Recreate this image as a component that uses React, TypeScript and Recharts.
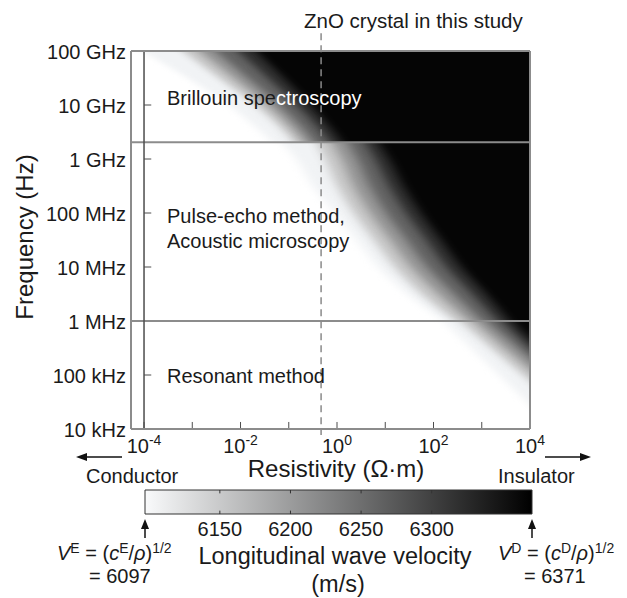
import React from 'react';
import { ComposedChart, Area, XAxis, YAxis, ReferenceLine, ReferenceArea } from 'recharts';

const FONT = '"Liberation Sans", Arial, Helvetica, sans-serif';
const INK = '#1a1a1a';
const FRAME = '#8c8c8c';
const DARK = '#4d4d4d';

// ---- axes (log10 values) ----
const X_MIN = -4.27;
const X_MAX = 4;
const Y_MIN = 4;
const Y_MAX = 11;
const xMajorTicks = [-4, -2, 0, 2, 4];
const xMinorTicks = [-4, -3, -2, -1, 0, 1, 2, 3, 4];
const yTicks = [4, 5, 6, 7, 8, 9, 10, 11];
const yTickLabels = ['10 kHz', '100 kHz', '1 MHz', '10 MHz', '100 MHz', '1 GHz', '10 GHz', '100 GHz'];
const yInnerTicks = [5, 7, 8, 9, 10];

// ---- annotations (log10 units) ----
const methodBoundaries = [9.31, 6];
const znoLogRho = -0.33;
const conductorLogRho = -4;

// ---- velocity contour levels (m/s) and their fills ----
const velocityLevels = [6104, 6125, 6180, 6234, 6295, 6360];
const levelFill = ['#f1f3f5', '#c6c6c6', '#959595', '#636363', '#303030', '#050505'];

// ---- contour positions, log10 resistivity at each log10 frequency ----
const brillouinLogF = [11, 10.5, 10, 9.6, 9.31];
const brillouinContours = [
  [-4.05, -3.1, -2.25, -1.7, -1.35],
  [-3.2, -2.45, -1.7, -1.2, -0.9],
  [-2.86, -2.15, -1.45, -0.98, -0.69],
  [-2.52, -1.85, -1.2, -0.75, -0.48],
  [-2.06, -1.44, -0.84, -0.42, -0.16],
  [-1.68, -1.1, -0.55, -0.15, 0.1],
];

const pulseLogF = [9.31, 9, 8.5, 8, 7.5, 7, 6.5, 6];
const pulseContours = [
  [-1.15, -0.85, -0.5, -0.05, 0.4, 0.85, 1.45, 2.2],
  [-0.43, -0.25, 0.0, 0.34, 0.76, 1.19, 1.75, 2.45],
  [-0.11, 0.09, 0.34, 0.68, 1.1, 1.53, 2.09, 2.73],
  [0.22, 0.42, 0.68, 1.02, 1.44, 1.87, 2.42, 3.0],
  [0.57, 0.78, 1.07, 1.42, 1.84, 2.26, 2.79, 3.32],
  [0.85, 1.08, 1.38, 1.74, 2.16, 2.58, 3.1, 3.58],
];

const resonantLogF = [6, 5.5, 5, 4.5, 4];
const resonantContours = [
  [2.2, 2.78, 3.36, 3.94, 4.5],
  [2.55, 3.19, 3.85, 4.5, 5.2],
  [2.83, 3.47, 4.13, 4.75, 5.4],
  [3.1, 3.75, 4.4, 5.0, 5.6],
  [3.4, 4.0, 4.62, 5.22, 5.82],
  [3.64, 4.2, 4.8, 5.4, 6.0],
];
const FILL_END = 6.5;

// ---- colour bar ----
const V_E = 6097;
const V_D = 6371;
const cbarTicks = [6150, 6200, 6250, 6300];
const cbarColors = ['#f9fafb', '#000000'];

type Row = { lf: number; c: number[] };
const toRows = (lf: number[], contours: number[][]): Row[] =>
  lf.map((f, i) => ({ lf: f, c: contours.map((col) => col[i]) }));

const regions: Row[][] = [
  toRows(brillouinLogF, brillouinContours),
  toRows(pulseLogF, pulseContours),
  toRows(resonantLogF, resonantContours),
];

const XTick = (props: any) => {
  const { x, y, payload } = props;
  const v = payload.value as number;
  return (
    <text x={x} y={y + 16} textAnchor="middle" fontFamily={FONT} fontSize={20} fill={INK}>
      <tspan>10</tspan>
      <tspan dy={-8} fontSize={14}>{v < 0 ? `-${-v}` : `${v}`}</tspan>
    </text>
  );
};

const YTick = (props: any) => {
  const { x, y, payload } = props;
  const idx = yTicks.indexOf(payload.value);
  return (
    <text x={x} y={y + 8} textAnchor="end" fontFamily={FONT} fontSize={20} fill={INK}>
      {idx >= 0 ? yTickLabels[idx] : ''}
    </text>
  );
};

const Sup = ({ children }: { children: React.ReactNode }) => (
  <tspan dy={-7} fontSize={14}>{children}</tspan>
);

export default function App() {
  return (
    <div style={{ position: 'absolute', left: 0, top: 0, width: 627, height: 598, background: '#fff' }}>
      <div style={{ position: 'absolute', left: 0, top: 0 }}>
        <ComposedChart
          width={627}
          height={470}
          layout="vertical"
          data={regions[1]}
          margin={{ top: 51, right: 97, bottom: 11, left: 71 }}
        >
          <defs>
            <filter id="hblur" x="-0.3" y="-0.02" width="1.6" height="1.04" colorInterpolationFilters="sRGB">
              <feGaussianBlur stdDeviation="5.5 0" />
            </filter>
          </defs>
          <XAxis
            type="number"
            domain={[X_MIN, X_MAX]}
            allowDataOverflow
            ticks={xMajorTicks}
            tick={<XTick />}
            tickLine={false}
            axisLine={false}
            height={30}
            interval={0}
          />
          <YAxis
            type="number"
            dataKey="lf"
            domain={[Y_MIN, Y_MAX]}
            allowDataOverflow
            reversed
            ticks={yTicks}
            tick={<YTick />}
            tickLine={false}
            axisLine={false}
            tickSize={0}
            tickMargin={5}
            width={60}
            interval={0}
          />
          {regions.flatMap((rows, r) =>
            velocityLevels.map((_, k) => (
              <Area
                key={`a-${r}-${k}`}
                data={rows}
                dataKey={(d: Row) => [d.c[k], FILL_END]}
                type="monotone"
                stroke="none"
                fill={levelFill[k]}
                fillOpacity={1}
                filter="url(#hblur)"
                isAnimationActive={false}
                dot={false}
                activeDot={false}
              />
            ))
          )}
          {methodBoundaries.map((b) => (
            <ReferenceLine key={`mb-${b}`} y={b} stroke={FRAME} strokeWidth={2} ifOverflow="visible" />
          ))}
          <ReferenceLine x={conductorLogRho} stroke={DARK} strokeWidth={1.5} ifOverflow="visible" />
          {yInnerTicks.map((t) => (
            <ReferenceLine
              key={`yt-${t}`}
              segment={[{ x: conductorLogRho, y: t }, { x: conductorLogRho + 0.15, y: t }]}
              stroke={DARK}
              strokeWidth={1}
              ifOverflow="visible"
            />
          ))}
          {xMinorTicks.map((t) => (
            <ReferenceLine
              key={`xt-${t}`}
              segment={[{ x: t, y: Y_MIN }, { x: t, y: Y_MIN + 0.13 }]}
              stroke={DARK}
              strokeWidth={1}
              ifOverflow="visible"
            />
          ))}
          <ReferenceLine
            segment={[{ x: znoLogRho, y: Y_MAX + 0.33 }, { x: znoLogRho, y: Y_MIN - 0.11 }]}
            stroke="#8a8a8a"
            strokeWidth={1.5}
            strokeDasharray="7 5"
            ifOverflow="visible"
          />
          <ReferenceLine x={X_MIN} stroke={FRAME} strokeWidth={2} ifOverflow="visible" />
          <ReferenceLine x={X_MAX} stroke={FRAME} strokeWidth={2} ifOverflow="visible" />
          <ReferenceLine y={Y_MAX} stroke={FRAME} strokeWidth={2} ifOverflow="visible" />
          <ReferenceLine y={Y_MIN} stroke={FRAME} strokeWidth={2} ifOverflow="visible" />
        </ComposedChart>
      </div>

      <div style={{ position: 'absolute', left: 0, top: 470 }}>
        <ComposedChart
          width={627}
          height={128}
          data={cbarTicks.map((v) => ({ v, y: 0.5 }))}
          margin={{ top: 20, right: 95, bottom: 54, left: 145 }}
        >
          <defs>
            <linearGradient id="cbarGrad" x1="0" y1="0" x2="1" y2="0">
              {cbarColors.map((c, i) => (
                <stop key={i} offset={i / (cbarColors.length - 1)} stopColor={c} />
              ))}
            </linearGradient>
          </defs>
          <XAxis
            type="number"
            dataKey="v"
            domain={[V_E, V_D]}
            allowDataOverflow
            ticks={cbarTicks}
            tickLine={false}
            axisLine={false}
            height={30}
            interval={0}
            tick={{ fontSize: 20, fill: INK, fontFamily: FONT }}
          />
          <YAxis type="number" dataKey="y" domain={[0, 1]} allowDataOverflow hide />
          <ReferenceArea
            x1={V_E}
            x2={V_D}
            y1={0}
            y2={1}
            fill="url(#cbarGrad)"
            fillOpacity={1}
            stroke="#333"
            strokeWidth={1}
            ifOverflow="visible"
          />
          {cbarTicks.map((t) => (
            <ReferenceLine key={`cb-${t}`} segment={[{ x: t, y: 0 }, { x: t, y: 0.14 }]} stroke="#333" strokeWidth={1} ifOverflow="visible" />
          ))}
          {cbarTicks.map((t) => (
            <ReferenceLine key={`ct-${t}`} segment={[{ x: t, y: 0.86 }, { x: t, y: 1 }]} stroke="#333" strokeWidth={1} ifOverflow="visible" />
          ))}
        </ComposedChart>
      </div>

      <svg
        width={627}
        height={598}
        style={{ position: 'absolute', left: 0, top: 0, pointerEvents: 'none' }}
        fontFamily={FONT}
        fill={INK}
      >
        <text x={304} y={28} fontSize={20.5}>ZnO crystal in this study</text>
        <text x={167} y={105} fontSize={20}>
          <tspan fill={INK}>Brillouin spe</tspan>
          <tspan fill="#ffffff">ctroscopy</tspan>
        </text>
        <text x={167} y={223} fontSize={20}>Pulse-echo method,</text>
        <text x={167} y={248} fontSize={20}>Acoustic microscopy</text>
        <text x={167} y={383} fontSize={20}>Resonant method</text>
        <text x={33} y={237} fontSize={24} textAnchor="middle" transform="rotate(-90 33 237)">Frequency (Hz)</text>
        <text x={336} y={477} fontSize={24} textAnchor="middle">Resistivity (Ω·m)</text>

        <line x1={122} y1={457} x2={84} y2={457} stroke="#111" strokeWidth={1.5} />
        <polygon points="76,457 87,453 87,461" fill="#111" />
        <text x={86} y={483} fontSize={20}>Conductor</text>
        <line x1={545} y1={457} x2={583} y2={457} stroke="#111" strokeWidth={1.5} />
        <polygon points="591,457 580,453 580,461" fill="#111" />
        <text x={498} y={483} fontSize={20}>Insulator</text>

        <line x1={145} y1={538} x2={145} y2={527} stroke="#111" strokeWidth={1.5} />
        <polygon points="145,519 141,529 149,529" fill="#111" />
        <line x1={532} y1={538} x2={532} y2={527} stroke="#111" strokeWidth={1.5} />
        <polygon points="532,519 528,529 536,529" fill="#111" />

        <text x={57} y={560} fontSize={20}>
          <tspan fontStyle="italic">V</tspan>
          <Sup>E</Sup>
          <tspan dy={7}> = (</tspan>
          <tspan fontStyle="italic">c</tspan>
          <Sup>E</Sup>
          <tspan dy={7}>/</tspan>
          <tspan fontStyle="italic">ρ</tspan>
          <tspan>)</tspan>
          <Sup>1/2</Sup>
        </text>
        <text x={89} y={583} fontSize={20}>= {V_E}</text>
        <text x={498} y={560} fontSize={20}>
          <tspan fontStyle="italic">V</tspan>
          <Sup>D</Sup>
          <tspan dy={7}> = (</tspan>
          <tspan fontStyle="italic">c</tspan>
          <Sup>D</Sup>
          <tspan dy={7}>/</tspan>
          <tspan fontStyle="italic">ρ</tspan>
          <tspan>)</tspan>
          <Sup>1/2</Sup>
        </text>
        <text x={524} y={583} fontSize={20}>= {V_D}</text>

        <text x={335} y={564} fontSize={23.5} textAnchor="middle">Longitudinal wave velocity</text>
        <text x={338} y={592} fontSize={23.5} textAnchor="middle">(m/s)</text>
      </svg>
    </div>
  );
}
